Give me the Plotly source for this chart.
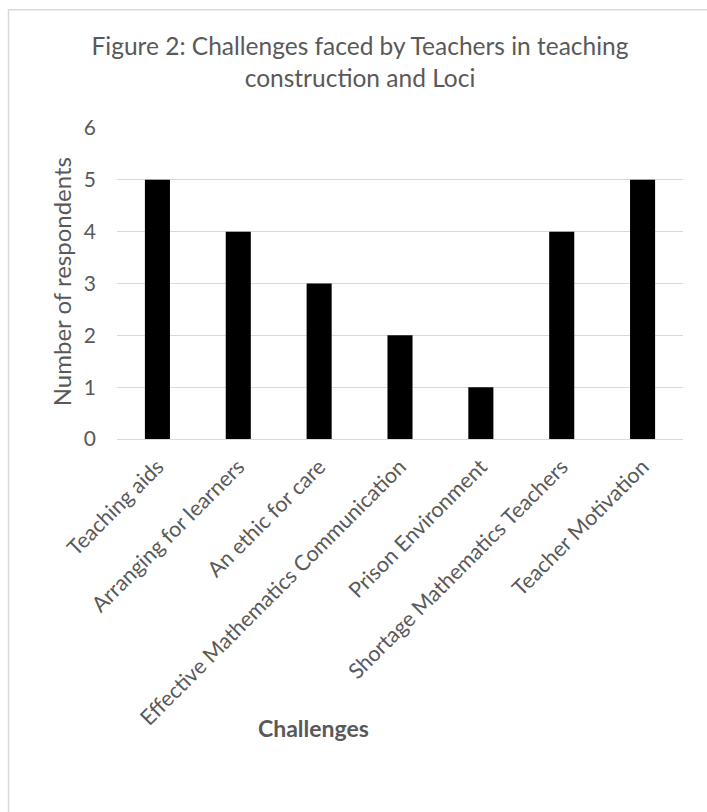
import plotly.graph_objects as go

categories = [
    "Teaching aids",
    "Arranging for learners",
    "An ethic for care",
    "Effective Mathematics Communication",
    "Prison Environment",
    "Shortage Mathematics Teachers",
    "Teacher Motivation",
]
respondents = [5, 4, 3, 2, 1, 4, 5]
y_ticks = [0, 1, 2, 3, 4, 5, 6]

FONT = "Lato, Carlito, Calibri, sans-serif"
GREY = "#595959"
FRAME = "#d9d9d9"

W, H = 707, 812
L, R, T, B = 117, 24, 127.5, 373
pw, ph = W - L - R, H - T - B


def px_to_paper_x(px):
    return (px - L) / pw


def px_to_paper_y(py):
    return 1 + (T - py) / ph


fig = go.Figure(
    go.Bar(
        x=categories,
        y=respondents,
        marker=dict(color="#000000", line=dict(width=0)),
    )
)

fig.update_layout(
    width=W,
    height=H,
    margin=dict(l=L, r=R, t=T, b=B),
    paper_bgcolor="white",
    plot_bgcolor="white",
    bargap=0.69,
    showlegend=False,
    font=dict(family=FONT, color=GREY),
    title=dict(
        text="Figure 2: Challenges faced by Teachers in teaching<br>construction and Loci",
        x=360 / W,
        xanchor="center",
        y=1 - 55 / H,
        yanchor="top",
        font=dict(family=FONT, size=24.5, color=GREY),
    ),
    xaxis=dict(
        tickangle=-45,
        tickfont=dict(family=FONT, size=21.5, color=GREY),
        showline=False,
        ticks="",
        showgrid=False,
        ticklabelstandoff=10,
    ),
    yaxis=dict(
        range=[0, 6],
        tickvals=y_ticks,
        tickfont=dict(family=FONT, size=21, color=GREY),
        showgrid=True,
        gridcolor=FRAME,
        gridwidth=1,
        zeroline=True,
        zerolinecolor=FRAME,
        zerolinewidth=1,
        showline=False,
        ticks="",
        ticklabelstandoff=20,
    ),
)

# value axis title
fig.add_annotation(
    text="Number of respondents",
    xref="paper",
    yref="paper",
    x=px_to_paper_x(61),
    y=px_to_paper_y(282),
    xanchor="center",
    yanchor="middle",
    textangle=-90,
    showarrow=False,
    font=dict(family=FONT, size=24, color=GREY),
)

# category axis title
fig.add_annotation(
    text="<b>Challenges</b>",
    xref="paper",
    yref="paper",
    x=px_to_paper_x(313),
    y=px_to_paper_y(728),
    xanchor="center",
    yanchor="middle",
    showarrow=False,
    font=dict(family=FONT, size=23, color=GREY),
)

# chart area frame (top and left edges)
fig.add_shape(
    type="line", xref="paper", yref="paper",
    x0=px_to_paper_x(8), x1=px_to_paper_x(W + 5),
    y0=px_to_paper_y(9), y1=px_to_paper_y(9),
    line=dict(color=FRAME, width=1.5),
)
fig.add_shape(
    type="line", xref="paper", yref="paper",
    x0=px_to_paper_x(8.5), x1=px_to_paper_x(8.5),
    y0=px_to_paper_y(9), y1=px_to_paper_y(H + 5),
    line=dict(color=FRAME, width=1.5),
)

fig.write_html("out.html")
